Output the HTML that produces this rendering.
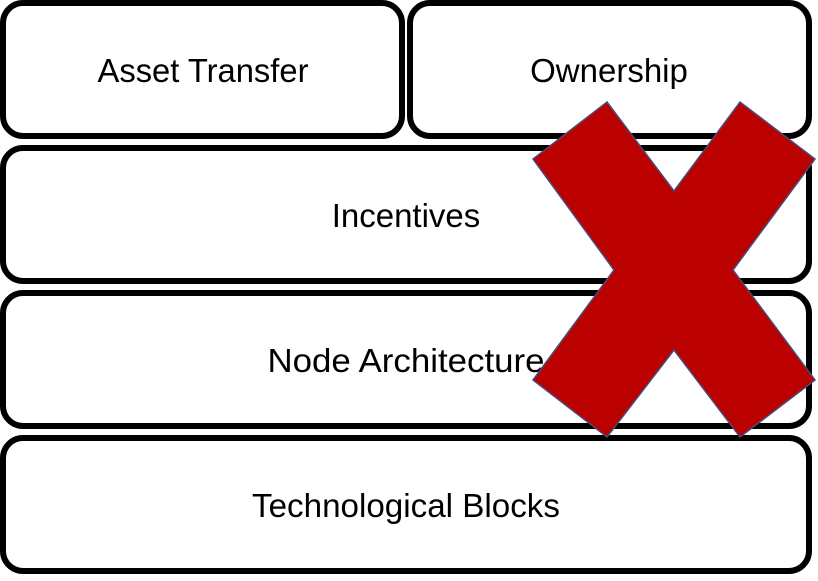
<!DOCTYPE html>
<html><head><style>body{margin:0;background:#fff}</style></head><body>
<svg width="818" height="576" xmlns="http://www.w3.org/2000/svg" font-family="Liberation Sans, sans-serif" font-size="33" text-anchor="middle">
<g fill="#fff" stroke="#000" stroke-width="6">
<rect x="3" y="3" width="399" height="133" rx="20"/>
<rect x="410" y="3" width="399" height="133" rx="20"/>
<rect x="3" y="148" width="806" height="133" rx="20"/>
<rect x="3" y="293" width="806" height="133" rx="20"/>
<rect x="3" y="438" width="806" height="133" rx="20"/>
</g>
<g fill="#000">
<text x="203" y="82" textLength="211" lengthAdjust="spacingAndGlyphs">Asset Transfer</text>
<text x="609" y="82">Ownership</text>
<text x="406" y="227">Incentives</text>
<text x="406" y="372" textLength="277" lengthAdjust="spacingAndGlyphs">Node Architecture</text>
<text x="406" y="517" textLength="308" lengthAdjust="spacingAndGlyphs">Technological Blocks</text>
</g>
<polygon points="607,102 674,191 740,102 815,159 733,270 815,380 740,437 674,350 607,437 533,380 614,270 533,159" fill="#bb0000" stroke="#4a4a7a" stroke-width="1.5"/>
</svg>
</body></html>
